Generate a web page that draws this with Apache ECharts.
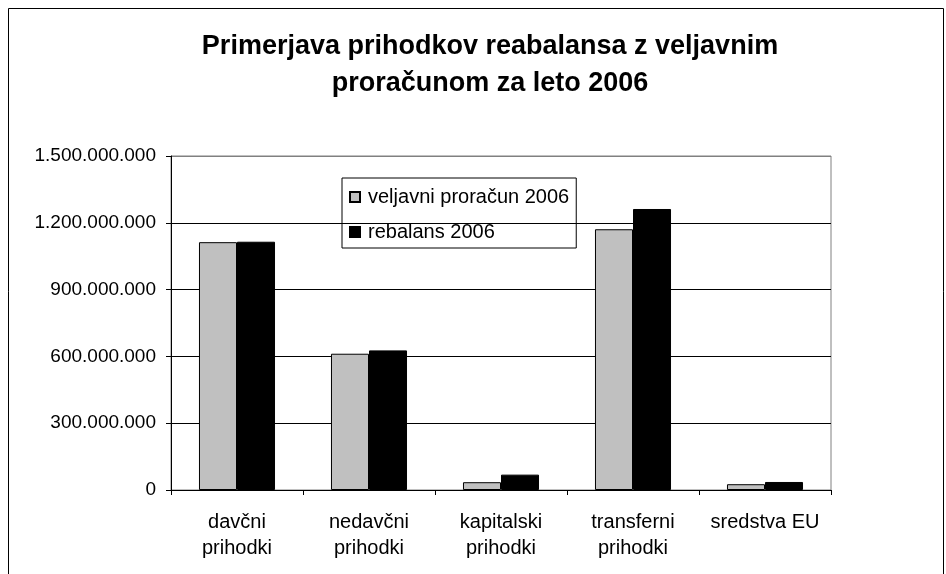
<!DOCTYPE html>
<html>
<head>
<meta charset="utf-8">
<script src="https://cdn.jsdelivr.net/npm/echarts@6/dist/echarts.min.js"></script>
<style>
html,body{margin:0;padding:0;background:#fff;}
#chart{width:946px;height:574px;}
</style>
</head>
<body>
<div id="chart"></div>
<script>
var categories = ['davčni\nprihodki', 'nedavčni\nprihodki', 'kapitalski\nprihodki', 'transferni\nprihodki', 'sredstva EU'];
var seriesNames = ['veljavni proračun 2006', 'rebalans 2006'];
var veljavni = [1113000000, 612000000, 35000000, 1171000000, 26000000];
var rebalans = [1115000000, 627000000, 69000000, 1262000000, 36000000];
var yTicks = [0, 300000000, 600000000, 900000000, 1200000000, 1500000000];

function fmt(v) {
  return String(Math.round(v)).replace(/\B(?=(\d{3})+(?!\d))/g, '.');
}

var chart = echarts.init(document.getElementById('chart'), null, {renderer: 'canvas'});
var font = 'Liberation Sans, Arial, sans-serif';
chart.setOption({
  animation: false,
  backgroundColor: '#ffffff',
  title: {
    text: 'Primerjava prihodkov reabalansa z veljavnim\nproračunom za leto 2006',
    left: 485,
    top: 23,
    textAlign: 'center',
    textStyle: {fontFamily: font, fontSize: 27, fontWeight: 'bold', color: '#000', lineHeight: 37}
  },
  legend: {
    orient: 'vertical',
    left: 342,
    top: 178,
    padding: [9, 7, 6, 7],
    itemGap: 15,
    itemWidth: 10,
    itemHeight: 10,
    borderColor: '#000',
    borderWidth: 1,
    icon: 'rect',
    textStyle: {fontFamily: font, fontSize: 20, color: '#000', lineHeight: 20, padding: [0, 0, 0, 3]},
    data: seriesNames
  },
  grid: {
    left: 171, top: 156, width: 660, height: 334,
    show: true, borderColor: '#808080', borderWidth: 1, backgroundColor: 'transparent'
  },
  xAxis: {
    type: 'category',
    data: categories,
    boundaryGap: true,
    axisLine: {show: true, lineStyle: {color: '#000', width: 1}},
    axisTick: {show: true, inside: false, length: 5, alignWithLabel: false, lineStyle: {color: '#000'}},
    axisLabel: {fontFamily: font, fontSize: 20, color: '#000', lineHeight: 26, margin: 19, interval: 0},
    splitLine: {show: false}
  },
  yAxis: {
    type: 'value',
    min: 0, max: 1500000000, interval: 300000000,
    axisLine: {show: true, lineStyle: {color: '#000', width: 1}},
    axisTick: {show: true, inside: false, length: 5, lineStyle: {color: '#000'}},
    axisLabel: {fontFamily: font, fontSize: 19, color: '#000', margin: 15,
      formatter: function (v) { return fmt(v); }},
    splitLine: {show: true, lineStyle: {color: ['#000', '#000', '#000', '#000', '#000', '#808080'], width: 1}}
  },
  series: [
    {
      name: seriesNames[0], type: 'bar', data: veljavni,
      barGap: '0%', barCategoryGap: '42.4%',
      itemStyle: {color: '#C0C0C0', borderColor: '#000', borderWidth: 1}
    },
    {
      name: seriesNames[1], type: 'bar', data: rebalans,
      barGap: '0%', barCategoryGap: '42.4%',
      itemStyle: {color: '#000000', borderColor: '#000', borderWidth: 1}
    }
  ],
  graphic: [
    {type: 'rect', shape: {x: 8.5, y: 8.5, width: 935, height: 700},
     style: {fill: 'none', stroke: '#000', lineWidth: 1}, silent: true, z: 100}
  ]
});
</script>
</body>
</html>
